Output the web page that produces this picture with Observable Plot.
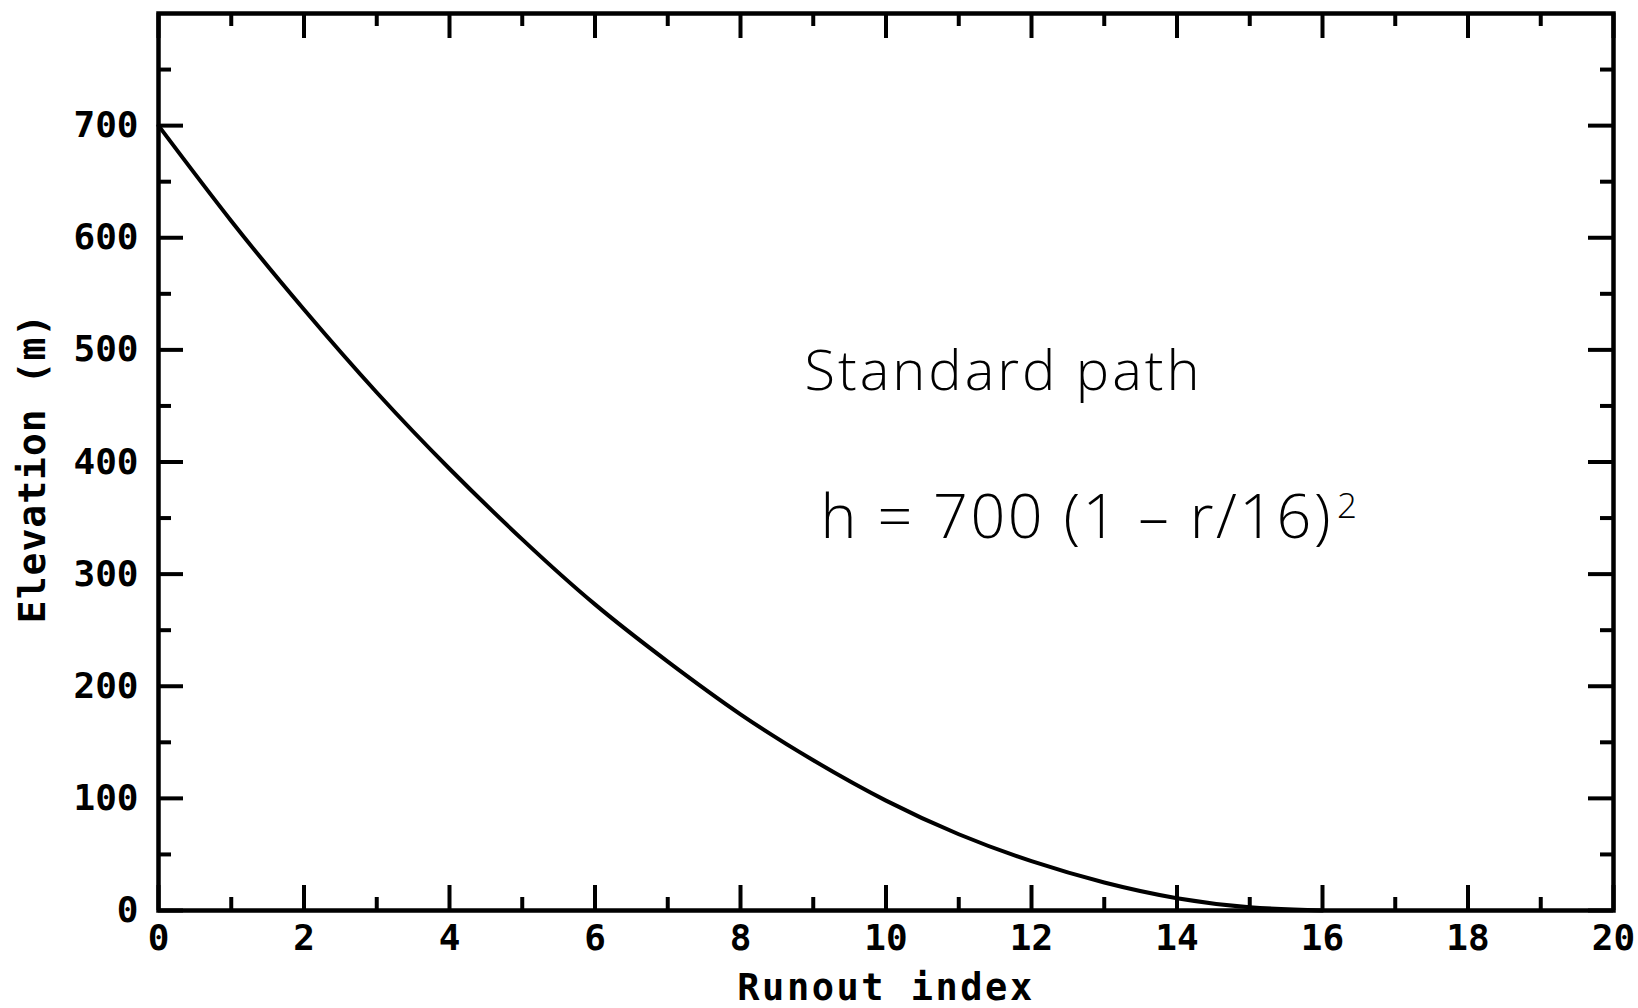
<!DOCTYPE html>
<html>
<head>
<meta charset="utf-8">
<script src="https://cdn.jsdelivr.net/npm/d3@7"></script>
<script src="https://cdn.jsdelivr.net/npm/@observablehq/plot@0.6"></script>
<style>
  html, body { margin: 0; padding: 0; background: #fff; }
</style>
</head>
<body>
<div id="chart"></div>
<script>
// Standard path profile: elevation (m) against runout index
const runout    = [0, 1, 2, 3, 4, 5, 6, 7, 8, 9, 10, 11, 12, 13, 14, 15, 16];
const elevation = [700, 615, 536, 462, 394, 331, 273, 222, 175, 134, 98, 68, 44, 25, 11, 3, 0];

// Axis ticks
const xMajorTicks = [0, 2, 4, 6, 8, 10, 12, 14, 16, 18, 20];
const xMinorTicks = [1, 3, 5, 7, 9, 11, 13, 15, 17, 19];
const yMajorTicks = [0, 100, 200, 300, 400, 500, 600, 700];
const yMinorTicks = [50, 150, 250, 350, 450, 550, 650, 750];

// Texts
const xTitle = "Runout index";
const yTitle = "Elevation (m)";
const noteTitle = "Standard path";
const noteFormula = "h = 700 (1 \u2013 r/16)";
const noteExponent = "2";

const profile = runout.map((r, i) => ({r, h: elevation[i]}));

const W = 1638, H = 1008;
const M = {top: 13, right: 25, bottom: 98, left: 158};
const innerW = W - M.left - M.right;
const innerH = H - M.top - M.bottom;
const MAJOR = 25, MINOR = 13, TICK_W = 4;
const monoFont = "'DejaVu Sans Mono', monospace";
const noteFont = "'Open Sans', 'Noto Sans', sans-serif";

const chart = Plot.plot({
  width: W,
  height: H,
  marginTop: M.top,
  marginRight: M.right,
  marginBottom: M.bottom,
  marginLeft: M.left,
  style: {fontFamily: monoFont, fontWeight: "bold", fontSize: "36px", color: "#000", background: "#fff"},
  x: {domain: [0, 20], axis: null},
  y: {domain: [0, 800], axis: null},
  marks: [
    // inward ticks on all four sides
    Plot.tickX(xMajorTicks, {x: d => d, insetTop: innerH - MAJOR, stroke: "#000", strokeWidth: TICK_W}),
    Plot.tickX(xMinorTicks, {x: d => d, insetTop: innerH - MINOR, stroke: "#000", strokeWidth: TICK_W}),
    Plot.tickX(xMajorTicks, {x: d => d, insetBottom: innerH - MAJOR, stroke: "#000", strokeWidth: TICK_W}),
    Plot.tickX(xMinorTicks, {x: d => d, insetBottom: innerH - MINOR, stroke: "#000", strokeWidth: TICK_W}),
    Plot.tickY(yMajorTicks, {y: d => d, insetRight: innerW - MAJOR, stroke: "#000", strokeWidth: TICK_W}),
    Plot.tickY(yMinorTicks, {y: d => d, insetRight: innerW - MINOR, stroke: "#000", strokeWidth: TICK_W}),
    Plot.tickY(yMajorTicks, {y: d => d, insetLeft: innerW - MAJOR, stroke: "#000", strokeWidth: TICK_W}),
    Plot.tickY(yMinorTicks, {y: d => d, insetLeft: innerW - MINOR, stroke: "#000", strokeWidth: TICK_W}),

    // tick labels
    Plot.text(xMajorTicks, {x: d => d, text: d => String(d), frameAnchor: "bottom", lineAnchor: "middle", dy: 28, fill: "#000"}),
    Plot.text(yMajorTicks, {y: d => d, text: d => String(d), frameAnchor: "left", textAnchor: "end", lineAnchor: "middle", dx: -20, fill: "#000"}),

    // axis titles
    Plot.text([xTitle], {text: d => d, frameAnchor: "bottom", textAnchor: "middle", lineAnchor: "bottom", dy: 89, fontSize: 37, fill: "#000"}),
    Plot.text([yTitle], {text: d => d, frameAnchor: "left", textAnchor: "middle", lineAnchor: "middle", rotate: -90, dx: -126, dy: 6, fontSize: 38, fill: "#000"}),

    // elevation profile
    Plot.line(profile, {x: "r", y: "h", curve: "natural", stroke: "#000", strokeWidth: 4}),

    // annotation
    Plot.text([noteTitle], {x: 8.88, y: 464, text: d => d, textAnchor: "start", lineAnchor: "bottom",
      fontFamily: noteFont, fontWeight: 300, fontSize: 56, fill: "#000"}),
    Plot.text([noteFormula], {x: 9.10, y: 332, text: d => d, textAnchor: "start", lineAnchor: "bottom",
      fontFamily: noteFont, fontWeight: 300, fontSize: 61, fill: "#000"}),
    Plot.text([noteExponent], {x: 16.2, y: 350, text: d => d, textAnchor: "start", lineAnchor: "bottom",
      fontFamily: noteFont, fontWeight: 300, fontSize: 35, fill: "#000"}),

    Plot.frame({stroke: "#000", strokeWidth: 4.5})
  ]
});

// spread the annotation texts to their set widths
const fitted = new Map([[noteTitle, 395], [noteFormula, 510]]);
const spaced = new Map([[xTitle, "2.5px"], [yTitle, "1px"]]);
d3.select(chart).selectAll("text").each(function () {
  const s = this.textContent;
  if (fitted.has(s)) {
    this.setAttribute("textLength", fitted.get(s));
    this.setAttribute("lengthAdjust", "spacing");
  }
  if (spaced.has(s)) this.style.letterSpacing = spaced.get(s);
});

document.getElementById("chart").appendChild(chart);
</script>
</body>
</html>
